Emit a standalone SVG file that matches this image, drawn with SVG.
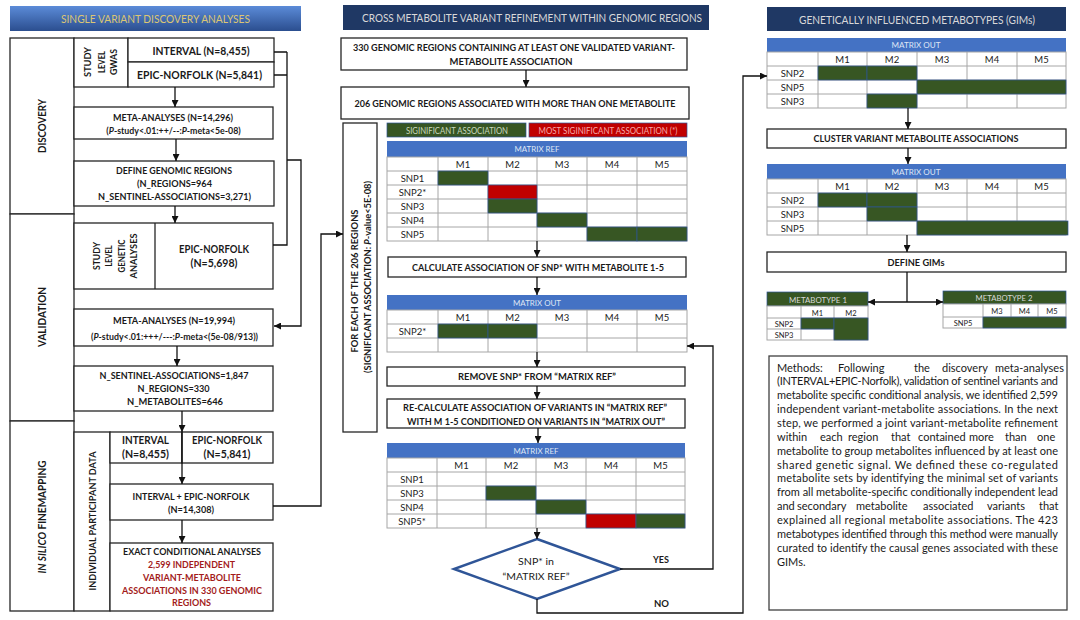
<svg xmlns="http://www.w3.org/2000/svg" width="1080" height="620" viewBox="0 0 1080 620">
<defs>
<linearGradient id="hg" x1="0" y1="0" x2="0" y2="1">
<stop offset="0" stop-color="#5b8bd8"/>
<stop offset="1" stop-color="#2b4e8f"/>
</linearGradient>
<marker id="ah" viewBox="0 0 8 8" refX="8" refY="4" markerWidth="7" markerHeight="7" markerUnits="userSpaceOnUse" orient="auto">
<path d="M0,0 L8,4 L0,8 z" fill="#111"/>
</marker>
<style>
text{font-family:Lato,'Liberation Sans',sans-serif;fill:#1a1a1a}
.b{font-weight:bold;font-size:10px}
.v{font-weight:bold;font-size:8.5px}
.L{font-weight:bold;font-size:11px}
.box{fill:#fff;stroke:#262626;stroke-width:1.3}
.c{fill:none;stroke:#111;stroke-width:1.3}
.ca{fill:none;stroke:#111;stroke-width:1.3;marker-end:url(#ah)}
.cell{fill:#fff;stroke:#a6a6a6;stroke-width:1}
.grid{fill:none;stroke:#a6a6a6;stroke-width:1}
.g{fill:#375623;stroke:#2f5597;stroke-width:0.7}
.r{fill:#c00000;stroke:#2f5597;stroke-width:0.7}
.mh{fill:#4472c4}
.mt{font-size:8px;fill:#dfe6f5}
.tt{font-size:9.5px;fill:#222}
.ts{font-size:7.5px;fill:#222}
.hd{fill:#1f3864}
.ht{font-size:11px;fill:#d9d9d9}
.red{fill:#a31b1b}
.m{font-size:11px;fill:#1a1a1a}
.i{font-style:italic}
</style>
</defs>

<!-- LEFT COLUMN -->
<g id="left-header">
<rect x="10" y="6" width="291" height="25" fill="url(#hg)"/>
<text x="155.5" y="22.5" text-anchor="middle" style="fill:#dcc673;font-size:11px" textLength="189" lengthAdjust="spacingAndGlyphs">SINGLE VARIANT DISCOVERY ANALYSES</text>
</g>
<g id="discovery-label">
<rect class="box" x="10" y="38" width="64" height="176"/>
<text class="L" x="46" y="126" text-anchor="middle" transform="rotate(-90 46 126)" textLength="54" lengthAdjust="spacingAndGlyphs">DISCOVERY</text>
</g>
<g id="validation-label">
<rect class="box" x="10" y="214" width="64" height="207"/>
<text class="L" x="46" y="317" text-anchor="middle" transform="rotate(-90 46 317)" textLength="60" lengthAdjust="spacingAndGlyphs">VALIDATION</text>
</g>
<g id="insilico-label">
<rect class="box" x="10" y="421" width="64" height="190"/>
<text class="L" x="46" y="517" text-anchor="middle" transform="rotate(-90 46 517)" textLength="113" lengthAdjust="spacingAndGlyphs"><tspan class="i">IN SILICO</tspan> FINEMAPPING</text>
</g>
<g id="study-gwas">
<rect class="box" x="74" y="38" width="54" height="49"/>
<text class="v" x="91" y="62" text-anchor="middle" transform="rotate(-90 91 62)" textLength="30" lengthAdjust="spacingAndGlyphs">STUDY</text>
<text class="v" x="104.5" y="62" text-anchor="middle" transform="rotate(-90 104.5 62)" textLength="22" lengthAdjust="spacingAndGlyphs">LEVEL</text>
<text class="v" x="117" y="62" text-anchor="middle" transform="rotate(-90 117 62)" textLength="26" lengthAdjust="spacingAndGlyphs">GWAS</text>
</g>
<g id="interval-disc">
<rect class="box" x="128" y="38" width="146" height="24"/>
<text class="b" x="201" y="55" text-anchor="middle" style="font-size:11px" textLength="97" lengthAdjust="spacingAndGlyphs">INTERVAL (N=8,455)</text>
</g>
<g id="epic-disc">
<rect class="box" x="128" y="62" width="146" height="25"/>
<text class="b" x="199.5" y="78.5" text-anchor="middle" style="font-size:11px" textLength="125" lengthAdjust="spacingAndGlyphs">EPIC-NORFOLK (N=5,841)</text>
</g>
<g id="meta-disc">
<rect class="box" x="74" y="107" width="199" height="32"/>
<text class="b" x="173" y="120.5" text-anchor="middle" textLength="120" lengthAdjust="spacingAndGlyphs">META-ANALYSES (N=14,296)</text>
<text class="b" x="173.5" y="134" text-anchor="middle" style="font-size:8.8px">(<tspan class="i">P</tspan>-study&lt;.01:++/--:<tspan class="i">P</tspan>-meta&lt;5e-08)</text>
</g>
<g id="define-regions">
<rect class="box" x="74" y="161" width="200" height="45"/>
<text class="b" x="174" y="174" text-anchor="middle" textLength="116" lengthAdjust="spacingAndGlyphs">DEFINE GENOMIC REGIONS</text>
<text class="b" x="174.5" y="187" text-anchor="middle" textLength="75" lengthAdjust="spacingAndGlyphs">(N_REGIONS=964</text>
<text class="b" x="174.5" y="200" text-anchor="middle" textLength="153" lengthAdjust="spacingAndGlyphs">N_SENTINEL-ASSOCIATIONS=3,271)</text>
</g>
<g id="study-genetic">
<rect class="box" x="74" y="223" width="199" height="66"/>
<line x1="155" y1="223" x2="155" y2="289" stroke="#262626" stroke-width="1.3"/>
<text class="v" x="100" y="256" text-anchor="middle" transform="rotate(-90 100 256)" textLength="28" lengthAdjust="spacingAndGlyphs">STUDY</text>
<text class="v" x="112" y="256" text-anchor="middle" transform="rotate(-90 112 256)" textLength="21" lengthAdjust="spacingAndGlyphs">LEVEL</text>
<text class="v" x="125" y="256" text-anchor="middle" transform="rotate(-90 125 256)" textLength="33" lengthAdjust="spacingAndGlyphs">GENETIC</text>
<text class="v" x="136.5" y="256" text-anchor="middle" transform="rotate(-90 136.5 256)" textLength="45" lengthAdjust="spacingAndGlyphs">ANALYSES</text>
<text class="b" x="214" y="252.5" text-anchor="middle" style="font-size:11px" textLength="70" lengthAdjust="spacingAndGlyphs">EPIC-NORFOLK</text>
<text class="b" x="214" y="267" text-anchor="middle" style="font-size:11px" textLength="47" lengthAdjust="spacingAndGlyphs">(N=5,698)</text>
</g>
<g id="meta-val">
<rect class="box" x="74" y="309" width="199" height="37"/>
<text class="b" x="174" y="324" text-anchor="middle" textLength="122" lengthAdjust="spacingAndGlyphs">META-ANALYSES (N=19,994)</text>
<text class="b" x="174.5" y="339.5" text-anchor="middle" style="font-size:8.8px">(<tspan class="i">P</tspan>-study&lt;.01:+++/---:<tspan class="i">P</tspan>-meta&lt;(5e-08/913))</text>
</g>
<g id="sentinel">
<rect class="box" x="74" y="366" width="199" height="45"/>
<text class="b" x="174" y="378.5" text-anchor="middle" textLength="149" lengthAdjust="spacingAndGlyphs">N_SENTINEL-ASSOCIATIONS=1,847</text>
<text class="b" x="173.5" y="392" text-anchor="middle" textLength="72" lengthAdjust="spacingAndGlyphs">N_REGIONS=330</text>
<text class="b" x="175" y="404.5" text-anchor="middle" textLength="96" lengthAdjust="spacingAndGlyphs">N_METABOLITES=646</text>
</g>
<g id="individual-data">
<rect class="box" x="74" y="432" width="36" height="179"/>
<text class="b" x="95.5" y="521" text-anchor="middle" style="font-size:9.5px" transform="rotate(-90 95.5 521)" textLength="139" lengthAdjust="spacingAndGlyphs">INDIVIDUAL PARTICIPANT DATA</text>
</g>
<g id="interval-ipd">
<rect class="box" x="110" y="432" width="72" height="31"/>
<text class="b" x="145.5" y="444" text-anchor="middle" style="font-size:11px" textLength="47" lengthAdjust="spacingAndGlyphs">INTERVAL</text>
<text class="b" x="145.5" y="458" text-anchor="middle" style="font-size:11px" textLength="47" lengthAdjust="spacingAndGlyphs">(N=8,455)</text>
</g>
<g id="epic-ipd">
<rect class="box" x="182" y="432" width="91" height="31"/>
<text class="b" x="227" y="444" text-anchor="middle" style="font-size:11px" textLength="70" lengthAdjust="spacingAndGlyphs">EPIC-NORFOLK</text>
<text class="b" x="227" y="458" text-anchor="middle" style="font-size:11px" textLength="47" lengthAdjust="spacingAndGlyphs">(N=5,841)</text>
</g>
<g id="combined-ipd">
<rect class="box" x="110" y="484" width="163" height="36"/>
<text class="b" x="191" y="499.5" text-anchor="middle" textLength="117" lengthAdjust="spacingAndGlyphs">INTERVAL + EPIC-NORFOLK</text>
<text class="b" x="191" y="512.5" text-anchor="middle" textLength="46" lengthAdjust="spacingAndGlyphs">(N=14,308)</text>
</g>
<g id="exact-conditional">
<rect class="box" x="110" y="543" width="163" height="68"/>
<text class="b" x="192" y="555" text-anchor="middle" textLength="138" lengthAdjust="spacingAndGlyphs">EXACT CONDITIONAL ANALYSES</text>
<text class="b red" x="191.5" y="568" text-anchor="middle" textLength="87" lengthAdjust="spacingAndGlyphs">2,599 INDEPENDENT</text>
<text class="b red" x="192" y="581" text-anchor="middle" textLength="98" lengthAdjust="spacingAndGlyphs">VARIANT-METABOLITE</text>
<text class="b red" x="192" y="593.5" text-anchor="middle" textLength="140" lengthAdjust="spacingAndGlyphs">ASSOCIATIONS IN 330 GENOMIC</text>
<text class="b red" x="191.5" y="606" text-anchor="middle" textLength="39" lengthAdjust="spacingAndGlyphs">REGIONS</text>
</g>

<!-- MIDDLE COLUMN -->
<g id="mid-header">
<rect class="hd" x="343" y="5" width="366" height="25"/>
<text class="ht" x="532" y="21.5" text-anchor="middle" textLength="340" lengthAdjust="spacingAndGlyphs">CROSS METABOLITE VARIANT REFINEMENT WITHIN GENOMIC REGIONS</text>
</g>
<g id="regions-330">
<rect class="box" x="341" y="38" width="346" height="32"/>
<text class="b" x="514" y="51" text-anchor="middle" textLength="322" lengthAdjust="spacingAndGlyphs">330 GENOMIC REGIONS CONTAINING AT LEAST ONE VALIDATED VARIANT-</text>
<text class="b" x="511" y="64.5" text-anchor="middle" textLength="123" lengthAdjust="spacingAndGlyphs">METABOLITE ASSOCIATION</text>
</g>
<g id="regions-206">
<rect class="box" x="341" y="87" width="348" height="32"/>
<text class="b" x="515" y="107" text-anchor="middle" textLength="321" lengthAdjust="spacingAndGlyphs">206 GENOMIC REGIONS ASSOCIATED WITH MORE THAN ONE METABOLITE</text>
</g>
<g id="for-each">
<rect class="box" x="343" y="123" width="34" height="309"/>
<text class="b" x="357.5" y="281" text-anchor="middle" style="font-size:9.5px" transform="rotate(-90 357.5 281)" textLength="143" lengthAdjust="spacingAndGlyphs">FOR EACH OF THE 206 REGIONS</text>
<text class="b" x="370.5" y="277" text-anchor="middle" style="font-size:9.5px" transform="rotate(-90 370.5 277)" textLength="192" lengthAdjust="spacingAndGlyphs">(SIGNIFICANT ASSOCIATION: <tspan class="i">P</tspan>-value&lt;5E-08)</text>
</g>
<g id="legend">
<rect class="g" x="387" y="123" width="139" height="14"/>
<text x="457" y="133.5" text-anchor="middle" style="fill:#c9d8bf;font-size:9px" textLength="102" lengthAdjust="spacingAndGlyphs">SIGINIFICANT ASSOCIATION</text>
<rect class="r" x="529" y="123" width="158" height="14"/>
<text x="608" y="133.5" text-anchor="middle" style="fill:#f7a8a8;font-size:9px" textLength="139" lengthAdjust="spacingAndGlyphs">MOST SIGINIFICANT ASSOCIATION (*)</text>
</g>
<g id="matrix-ref-1">
<rect class="mh" x="387" y="141" width="300" height="16"/>
<text class="mt" x="537" y="152" text-anchor="middle" textLength="45" lengthAdjust="spacingAndGlyphs">MATRIX REF</text>
<rect class="cell" x="387" y="157" width="300" height="84"/>
<path class="grid" d="M387,171H687M387,185H687M387,199H687M387,213H687M387,227H687M438,157V241M488,157V241M537,157V241M587,157V241M637,157V241"/>
<rect class="g" x="438" y="171" width="50" height="14"/>
<rect class="r" x="488" y="185" width="49" height="14"/>
<rect class="g" x="488" y="199" width="49" height="14"/>
<rect class="g" x="537" y="213" width="50" height="14"/>
<rect class="g" x="587" y="227" width="50" height="14"/>
<rect class="g" x="637" y="227" width="50" height="14"/>
<g text-anchor="middle">
<text class="tt" x="463" y="167.5">M1</text><text class="tt" x="512.5" y="167.5">M2</text><text class="tt" x="562" y="167.5">M3</text><text class="tt" x="612" y="167.5">M4</text><text class="tt" x="662" y="167.5">M5</text>
<text class="tt" x="412.5" y="181.5">SNP1</text><text class="tt" x="412.5" y="195.5">SNP2*</text><text class="tt" x="412.5" y="209.5">SNP3</text><text class="tt" x="412.5" y="223.5">SNP4</text><text class="tt" x="412.5" y="237.5">SNP5</text>
</g>
</g>
<g id="calculate">
<rect class="box" x="388" y="257" width="298" height="20"/>
<text class="b" x="538" y="270.5" text-anchor="middle" textLength="252" lengthAdjust="spacingAndGlyphs">CALCULATE ASSOCIATION OF SNP* WITH METABOLITE 1-5</text>
</g>
<g id="matrix-out-1">
<rect class="mh" x="387" y="295" width="300" height="15"/>
<text class="mt" x="537" y="305.5" text-anchor="middle" textLength="48" lengthAdjust="spacingAndGlyphs">MATRIX OUT</text>
<rect class="cell" x="387" y="310" width="300" height="42"/>
<path class="grid" d="M387,324H687M387,338H687M438,310V352M488,310V352M537,310V352M587,310V352M637,310V352"/>
<rect class="g" x="438" y="324" width="50" height="14"/>
<rect class="g" x="488" y="324" width="49" height="14"/>
<g text-anchor="middle">
<text class="tt" x="463" y="320.5">M1</text><text class="tt" x="512.5" y="320.5">M2</text><text class="tt" x="562" y="320.5">M3</text><text class="tt" x="612" y="320.5">M4</text><text class="tt" x="662" y="320.5">M5</text>
<text class="tt" x="412.5" y="334.5">SNP2*</text>
</g>
</g>
<g id="remove">
<rect class="box" x="387" y="367" width="298" height="19"/>
<text class="b" x="537" y="380" text-anchor="middle" textLength="158" lengthAdjust="spacingAndGlyphs">REMOVE SNP* FROM “MATRIX REF”</text>
</g>
<g id="recalculate">
<rect class="box" x="387" y="399" width="298" height="29"/>
<text class="b" x="535" y="411" text-anchor="middle" textLength="264" lengthAdjust="spacingAndGlyphs">RE-CALCULATE ASSOCIATION OF VARIANTS IN “MATRIX REF”</text>
<text class="b" x="536" y="424.5" text-anchor="middle" textLength="258" lengthAdjust="spacingAndGlyphs">WITH M 1-5 CONDITIONED ON VARIANTS IN “MATRIX OUT”</text>
</g>
<g id="matrix-ref-2">
<rect class="mh" x="387" y="443" width="298" height="15"/>
<text class="mt" x="536" y="454" text-anchor="middle" textLength="45" lengthAdjust="spacingAndGlyphs">MATRIX REF</text>
<rect class="cell" x="387" y="458" width="298" height="70"/>
<path class="grid" d="M387,472H685M387,486H685M387,500H685M387,514H685M437,458V528M486,458V528M536,458V528M586,458V528M636,458V528"/>
<rect class="g" x="486" y="486" width="50" height="14"/>
<rect class="g" x="536" y="500" width="50" height="14"/>
<rect class="r" x="586" y="514" width="50" height="14"/>
<rect class="g" x="636" y="514" width="49" height="14"/>
<g text-anchor="middle">
<text class="tt" x="461.5" y="468.5">M1</text><text class="tt" x="511" y="468.5">M2</text><text class="tt" x="561" y="468.5">M3</text><text class="tt" x="611" y="468.5">M4</text><text class="tt" x="660.5" y="468.5">M5</text>
<text class="tt" x="412" y="482.5">SNP1</text><text class="tt" x="412" y="496.5">SNP3</text><text class="tt" x="412" y="510.5">SNP4</text><text class="tt" x="412" y="524.5">SNP5*</text>
</g>
</g>
<g id="decision">
<polygon points="537,539 620,569 537,599 454,569" fill="#fff" stroke="#2f5597" stroke-width="2.5"/>
<text x="536" y="565" text-anchor="middle" style="font-size:10px" textLength="36" lengthAdjust="spacingAndGlyphs">SNP* in</text>
<text x="536" y="580" text-anchor="middle" style="font-size:10px" textLength="67" lengthAdjust="spacingAndGlyphs">“MATRIX REF”</text>
</g>

<!-- RIGHT COLUMN -->
<g id="right-header">
<rect class="hd" x="767" y="7" width="299" height="24"/>
<text class="ht" x="917" y="23.5" text-anchor="middle" textLength="236" lengthAdjust="spacingAndGlyphs">GENETICALLY INFLUENCED METABOTYPES (GIMs)</text>
</g>
<g id="gim-matrix-out-1">
<rect class="mh" x="767" y="38" width="299" height="14"/>
<text class="mt" x="916" y="48" text-anchor="middle" textLength="49" lengthAdjust="spacingAndGlyphs">MATRIX OUT</text>
<rect class="cell" x="767" y="52" width="299" height="56"/>
<path class="grid" d="M767,66H1066M767,80H1066M767,94H1066M818,52V108M867,52V108M917,52V108M967,52V108M1017,52V108"/>
<rect class="g" x="818" y="66" width="49" height="14"/>
<rect class="g" x="867" y="66" width="50" height="14"/>
<rect class="g" x="917" y="80" width="149" height="14"/>
<rect class="g" x="867" y="94" width="50" height="14"/>
<g text-anchor="middle">
<text class="tt" x="842.5" y="62.5">M1</text><text class="tt" x="892" y="62.5">M2</text><text class="tt" x="942" y="62.5">M3</text><text class="tt" x="992" y="62.5">M4</text><text class="tt" x="1041.5" y="62.5">M5</text>
<text class="tt" x="792.5" y="76.5">SNP2</text><text class="tt" x="792.5" y="90.5">SNP5</text><text class="tt" x="792.5" y="104.5">SNP3</text>
</g>
</g>
<g id="cluster">
<rect class="box" x="767" y="129" width="299" height="19"/>
<text class="b" x="916" y="142" text-anchor="middle" textLength="205" lengthAdjust="spacingAndGlyphs">CLUSTER VARIANT METABOLITE ASSOCIATIONS</text>
</g>
<g id="gim-matrix-out-2">
<rect class="mh" x="767" y="164" width="299" height="15"/>
<text class="mt" x="916" y="174.5" text-anchor="middle" textLength="49" lengthAdjust="spacingAndGlyphs">MATRIX OUT</text>
<rect class="cell" x="767" y="179" width="299" height="56"/>
<path class="grid" d="M767,193H1066M767,207H1066M767,221H1066M818,179V235M867,179V235M917,179V235M967,179V235M1017,179V235"/>
<rect class="g" x="818" y="193" width="49" height="14"/>
<rect class="g" x="867" y="193" width="50" height="14"/>
<rect class="g" x="867" y="207" width="50" height="14"/>
<rect class="g" x="917" y="221" width="151" height="14"/>
<g text-anchor="middle">
<text class="tt" x="842.5" y="189.5">M1</text><text class="tt" x="892" y="189.5">M2</text><text class="tt" x="942" y="189.5">M3</text><text class="tt" x="992" y="189.5">M4</text><text class="tt" x="1041.5" y="189.5">M5</text>
<text class="tt" x="792.5" y="203.5">SNP2</text><text class="tt" x="792.5" y="217.5">SNP3</text><text class="tt" x="792.5" y="231.5">SNP5</text>
</g>
</g>
<g id="define-gims">
<rect class="box" x="767" y="252" width="299" height="20"/>
<text class="b" x="916" y="265.5" text-anchor="middle" textLength="57" lengthAdjust="spacingAndGlyphs">DEFINE GIMs</text>
</g>
<g id="metabotype-1">
<rect class="g" x="767" y="292" width="101" height="14"/>
<text x="818" y="302.5" text-anchor="middle" style="font-size:8px;fill:#d9d9d9" textLength="58" lengthAdjust="spacingAndGlyphs">METABOTYPE 1</text>
<rect class="cell" x="767" y="306" width="101" height="34"/>
<path class="grid" d="M767,318H868M767,329H834M801,306V340M834,306V340"/>
<rect class="g" x="801" y="318" width="33" height="11"/>
<rect class="g" x="834" y="318" width="34" height="22"/>
<g text-anchor="middle">
<text class="ts" x="817.5" y="315.5">M1</text><text class="ts" x="851" y="315.5">M2</text>
<text class="ts" x="784" y="327">SNP2</text><text class="ts" x="784" y="338">SNP3</text>
</g>
</g>
<g id="metabotype-2">
<rect class="g" x="943" y="291" width="123" height="13"/>
<text x="1004" y="301" text-anchor="middle" style="font-size:8px;fill:#d9d9d9" textLength="57" lengthAdjust="spacingAndGlyphs">METABOTYPE 2</text>
<rect class="cell" x="943" y="304" width="123" height="24"/>
<path class="grid" d="M943,317H1066M983,304V328M1011,304V317M1038,304V317"/>
<rect class="g" x="983" y="317" width="83" height="11"/>
<g text-anchor="middle">
<text class="ts" x="997" y="314">M3</text><text class="ts" x="1024.5" y="314">M4</text><text class="ts" x="1052" y="314">M5</text>
<text class="ts" x="963" y="326">SNP5</text>
</g>
</g>
<g id="methods">
<rect x="769" y="356" width="298" height="254" fill="#fff" stroke="#404040" stroke-width="1.3"/>
<text class="m" y="371.5"><tspan x="777">Methods:</tspan><tspan x="838">Following</tspan><tspan x="914">the</tspan><tspan x="942">discovery</tspan><tspan x="995">meta-analyses</tspan></text>
<text class="m" x="777" y="385.4" textLength="281" lengthAdjust="spacing">(INTERVAL+EPIC-Norfolk), validation of sentinel variants and</text>
<text class="m" x="777" y="399.2" textLength="281" lengthAdjust="spacing">metabolite specific conditional analysis, we identified 2,599</text>
<text class="m" x="777" y="413.1" textLength="281" lengthAdjust="spacing">independent variant-metabolite associations. In the next</text>
<text class="m" x="777" y="426.9" textLength="281" lengthAdjust="spacing">step, we performed a joint variant-metabolite refinement</text>
<text class="m" y="440.8"><tspan x="777">within</tspan><tspan x="820">each</tspan><tspan x="848">region</tspan><tspan x="891">that</tspan><tspan x="918">contained</tspan><tspan x="969">more</tspan><tspan x="1005">than</tspan><tspan x="1037">one</tspan></text>
<text class="m" x="777" y="454.7" textLength="281" lengthAdjust="spacing">metabolite to group metabolites influenced by at least one</text>
<text class="m" x="777" y="468.5" textLength="281" lengthAdjust="spacing">shared genetic signal. We defined these co-regulated</text>
<text class="m" x="777" y="482.4" textLength="281" lengthAdjust="spacing">metabolite sets by identifying the minimal set of variants</text>
<text class="m" x="777" y="496.2" textLength="281" lengthAdjust="spacing">from all metabolite-specific conditionally independent lead</text>
<text class="m" y="510.1"><tspan x="777">and</tspan><tspan x="797">secondary</tspan><tspan x="856">metabolite</tspan><tspan x="923">associated</tspan><tspan x="987">variants</tspan><tspan x="1039">that</tspan></text>
<text class="m" x="777" y="523.9" textLength="281" lengthAdjust="spacing">explained all regional metabolite associations. The 423</text>
<text class="m" x="777" y="537.8" textLength="281" lengthAdjust="spacing">metabotypes identified through this method were manually</text>
<text class="m" x="777" y="551.7" textLength="281" lengthAdjust="spacing">curated to identify the causal genes associated with these</text>
<text class="m" x="777" y="565.5">GIMs.</text>
</g>

<!-- CONNECTORS -->
<g id="connectors">
<path class="ca" d="M175,87V107"/>
<path class="ca" d="M176,139V161"/>
<path class="ca" d="M175,206V223"/>
<path class="ca" d="M177,346V366"/>
<path class="ca" d="M182,411V432"/>
<path class="ca" d="M182,432V484"/>
<path class="ca" d="M182,520V543"/>
<path class="c" d="M274,52H287M274,75H287M287,52V245H273"/>
<path class="ca" d="M287,160H301V326H274"/>
<path class="ca" d="M273,506H321V234H343"/>
<path class="ca" d="M526,70V87"/>
<path class="ca" d="M537,241V257"/>
<path class="ca" d="M537,277V295"/>
<path class="ca" d="M537,352V367"/>
<path class="ca" d="M537,386V399"/>
<path class="ca" d="M538,428V443"/>
<path class="ca" d="M537,528V539"/>
<path class="ca" d="M620,569H713V346H687"/>
<path class="ca" d="M537,599V613H743V76H767"/>
<path class="ca" d="M908,108V129"/>
<path class="ca" d="M908,148V164"/>
<path class="ca" d="M907,235V252"/>
<path class="c" d="M907,272V302"/>
<path class="ca" d="M907,302H868"/>
<path class="ca" d="M907,302H943"/>
<text class="b" x="661" y="563" text-anchor="middle" textLength="16" lengthAdjust="spacingAndGlyphs">YES</text>
<text class="b" x="661.5" y="607" text-anchor="middle" textLength="15" lengthAdjust="spacingAndGlyphs">NO</text>
</g>
</svg>
